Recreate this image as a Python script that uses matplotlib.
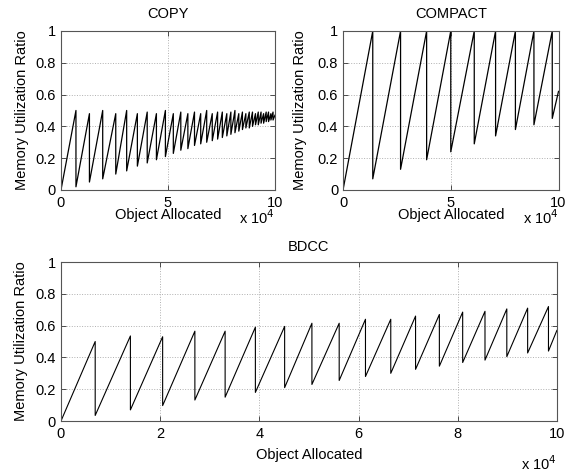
import matplotlib
matplotlib.use('Agg')
import matplotlib.pyplot as plt

plt.rcParams['font.family'] = ['Liberation Sans', 'DejaVu Sans']
plt.rcParams['font.size'] = 10.5

# x values in units of 10^4 objects allocated
# COPY: position of each collection, peak before it and value right after it
copy_peak_x = [0.70, 1.33, 1.95, 2.56, 3.07, 3.57, 4.03, 4.46, 4.88, 5.25,
               5.60, 5.93, 6.24, 6.53, 6.81, 7.07, 7.32, 7.54, 7.75, 7.94,
               8.13, 8.31, 8.48, 8.64, 8.80, 8.95, 9.09, 9.22, 9.35, 9.47,
               9.59, 9.70, 9.81, 9.91]
copy_peak_y = [0.50, 0.48, 0.50, 0.48, 0.50, 0.48, 0.49, 0.48, 0.50, 0.48,
               0.49, 0.48, 0.49, 0.48, 0.50, 0.48, 0.49, 0.49, 0.48, 0.49,
               0.50, 0.48, 0.49, 0.48, 0.49, 0.49, 0.48, 0.49, 0.49, 0.48,
               0.49, 0.49, 0.48, 0.49]
copy_trough_y = [0.02, 0.05, 0.07, 0.10, 0.12, 0.15, 0.17, 0.19, 0.21, 0.23,
                 0.25, 0.26, 0.28, 0.29, 0.30, 0.31, 0.32, 0.33, 0.34, 0.35,
                 0.36, 0.37, 0.38, 0.39, 0.39, 0.40, 0.41, 0.41, 0.42, 0.42,
                 0.43, 0.43, 0.44, 0.44]
copy_end = (10.0, 0.47)

compact_peak_x = [1.38, 2.67, 3.88, 5.00, 6.09, 7.08, 8.00, 8.86, 9.71]
compact_peak_y = [1.0, 1.0, 1.0, 1.0, 1.0, 1.0, 1.0, 1.0, 1.0]
compact_trough_y = [0.07, 0.13, 0.19, 0.24, 0.29, 0.34, 0.38, 0.41, 0.45]
compact_end = (10.0, 0.62)

bdcc_peak_x = [0.69, 1.40, 2.05, 2.70, 3.31, 3.92, 4.51, 5.06, 5.61, 6.14,
               6.65, 7.15, 7.63, 8.10, 8.55, 8.99, 9.41, 9.83]
bdcc_peak_y = [0.50, 0.535, 0.53, 0.565, 0.565, 0.59, 0.595, 0.615, 0.615, 0.64,
               0.64, 0.66, 0.67, 0.685, 0.69, 0.705, 0.71, 0.72]
bdcc_trough_y = [0.035, 0.07, 0.097, 0.132, 0.15, 0.18, 0.21, 0.23, 0.255, 0.28,
                 0.30, 0.325, 0.345, 0.368, 0.383, 0.405, 0.428, 0.44]
bdcc_end = (10.0, 0.57)


def sawtooth(peak_x, peak_y, trough_y, end):
    """
    Join the read-off peaks and troughs into the vertices of the trace
    """
    xs = [0.0]
    ys = [0.0]
    for px, py, ty in zip(peak_x, peak_y, trough_y):
        xs += [px, px]
        ys += [py, ty]
    xs.append(end[0])
    ys.append(end[1])
    return xs, ys


def style_axes(ax, title, xticks, title_pad, xlab_y, ylab_x, mult_y):
    ax.set_xlim(0, 10)
    ax.set_ylim(0, 1)
    ax.set_xticks(xticks)
    ax.set_xticklabels([str(t) for t in xticks])
    ax.set_yticks([0, 0.2, 0.4, 0.6, 0.8, 1])
    ax.set_yticklabels(['0', '0.2', '0.4', '0.6', '0.8', '1'])
    ax.tick_params(direction='in', length=3.5, width=0.6, top=True, right=True,
                   colors='#333333', labelcolor='black')
    ax.tick_params(axis='x', pad=4)
    ax.tick_params(axis='y', pad=3.5)
    ax.grid(True, linestyle=':', color='#b0b0b0', linewidth=0.7)
    for s in ax.spines.values():
        s.set_color('#555555')
        s.set_linewidth(0.8)
    ax.set_title(title, pad=title_pad, fontsize=10.5)
    ax.set_xlabel('Object Allocated')
    ax.xaxis.set_label_coords(0.5, xlab_y)
    ax.set_ylabel('Memory Utilization Ratio')
    ax.yaxis.set_label_coords(ylab_x, 0.5)
    ax.text(1.0, mult_y, r'x 10$^{4}$', transform=ax.transAxes,
            ha='right', va='center', fontsize=10.5)


fig = plt.figure(figsize=(5.72, 4.72), dpi=100)

ax1 = fig.add_axes([0.1066, 0.5975, 0.3741, 0.3369])
x, y = sawtooth(copy_peak_x, copy_peak_y, copy_trough_y, copy_end)
ax1.plot(x, y, color='black', linewidth=0.9)
style_axes(ax1, 'COPY', [0, 5, 10], 9, -0.115, -0.15, -0.175)

ax2 = fig.add_axes([0.5997, 0.5975, 0.3767, 0.3369])
x, y = sawtooth(compact_peak_x, compact_peak_y, compact_trough_y, compact_end)
ax2.plot(x, y, color='black', linewidth=0.9)
style_axes(ax2, 'COMPACT', [0, 5, 10], 9, -0.115, -0.167, -0.175)

ax3 = fig.add_axes([0.1066, 0.108, 0.867, 0.3369])
x, y = sawtooth(bdcc_peak_x, bdcc_peak_y, bdcc_trough_y, bdcc_end)
ax3.plot(x, y, color='black', linewidth=0.8)
style_axes(ax3, 'BDCC', [0, 2, 4, 6, 8, 10], 8, -0.17, -0.0665, -0.265)

fig.savefig('out.png', dpi=100)
